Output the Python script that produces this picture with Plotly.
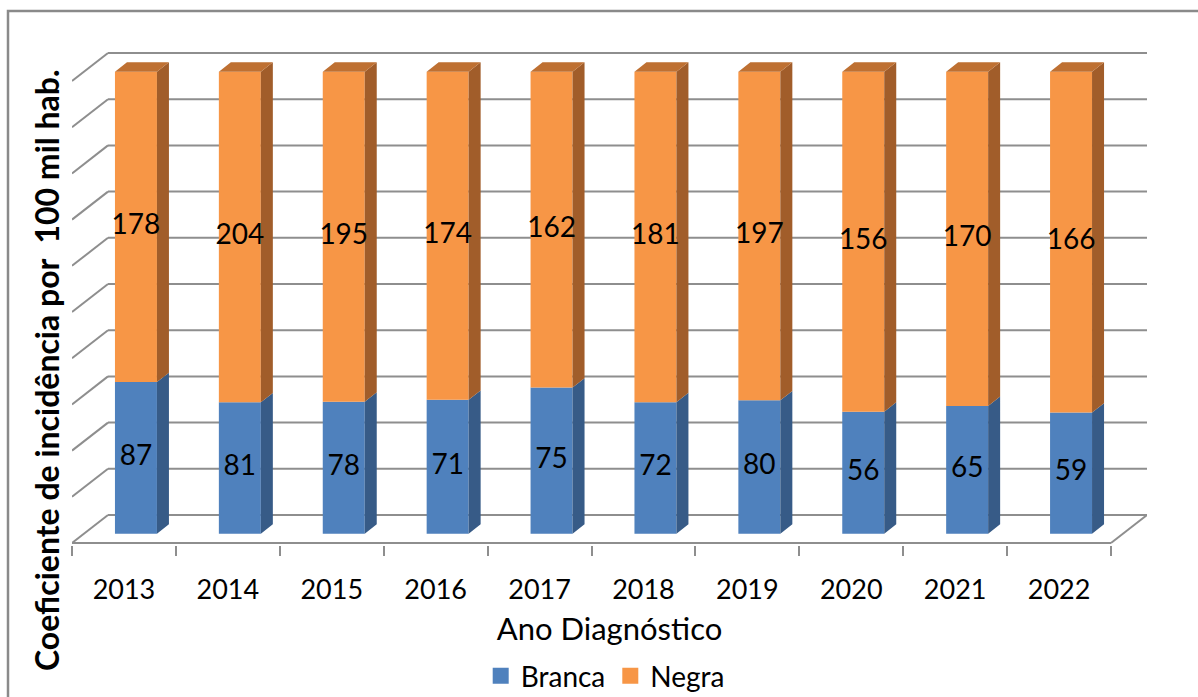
import plotly.graph_objects as go

# ---- data -------------------------------------------------------------
anos = ["2013", "2014", "2015", "2016", "2017", "2018", "2019", "2020", "2021", "2022"]
branca = [87, 81, 78, 71, 75, 72, 80, 56, 65, 59]
negra = [178, 204, 195, 174, 162, 181, 197, 156, 170, 166]
niveis = [0, 10, 20, 30, 40, 50, 60, 70, 80, 90, 100]   # wall gridlines (%)

# ---- colours ----------------------------------------------------------
AZUL, AZUL_LADO = "#4F81BD", "#375B87"
LARANJA, LARANJA_LADO, LARANJA_TOPO = "#F79646", "#A15D2A", "#BE7032"
GRADE = "#8E8E8E"
FONTE = "Lato"

# ---- pseudo-3D geometry (axis units) -----------------------------------
n = len(anos)
DX, DY = 0.3465, 6.06          # full depth of the floor along x / y
BAR_W = 0.404                  # front-face width of each column
dx, dy = DX / 3, DY / 3        # columns occupy the middle third of the depth

pct_b = [b / (b + g) * 100 for b, g in zip(branca, negra)]
pct_n = [g / (b + g) * 100 for b, g in zip(branca, negra)]
xc = [i + dx for i in range(n)]
base_b = [dy] * n
base_n = [dy + p for p in pct_b]

PX_Y = 4.62
y_lo, y_hi = -2 / PX_Y, 503 / PX_Y
x_lo, x_hi = -0.5, n - 0.5 + DX

fig = go.Figure()

# front faces
fig.add_trace(go.Bar(x=xc, y=pct_b, base=base_b, width=BAR_W, name="Branca",
                     marker=dict(color=AZUL, line=dict(width=0)), hoverinfo="skip",
                     showlegend=False))
fig.add_trace(go.Bar(x=xc, y=pct_n, base=base_n, width=BAR_W, name="Negra",
                     marker=dict(color=LARANJA, line=dict(width=0)), hoverinfo="skip",
                     showlegend=False))


def faces(kind, bottoms, tops):
    xs, ys = [], []
    for x, y0, y1 in zip(xc, bottoms, tops):
        xl, xr = x - BAR_W / 2, x + BAR_W / 2
        if kind == "side":
            xs += [xr, xr + dx, xr + dx, xr, xr, None]
            ys += [y0, y0 + dy, y1 + dy, y1, y0, None]
        else:
            xs += [xl, xr, xr + dx, xl + dx, xl, None]
            ys += [y1, y1, y1 + dy, y1 + dy, y1, None]
    return xs, ys


for kind, bottoms, tops, cor in [
    ("side", base_b, [b + p for b, p in zip(base_b, pct_b)], AZUL_LADO),
    ("side", base_n, [b + p for b, p in zip(base_n, pct_n)], LARANJA_LADO),
    ("top", base_n, [b + p for b, p in zip(base_n, pct_n)], LARANJA_TOPO),
]:
    xs, ys = faces(kind, bottoms, tops)
    fig.add_trace(go.Scatter(x=xs, y=ys, mode="lines", fill="toself", fillcolor=cor,
                             line=dict(width=0, color=cor), showlegend=False,
                             hoverinfo="skip"))

# value labels on the front faces
fig.add_trace(go.Scatter(
    x=xc + xc,
    y=[b + p / 2 for b, p in zip(base_b, pct_b)] + [b + p / 2 for b, p in zip(base_n, pct_n)],
    text=[str(v) for v in branca] + [str(v) for v in negra],
    mode="text", textposition="middle center",
    textfont=dict(family=FONTE, size=28, color="black"),
    showlegend=False, hoverinfo="skip"))

# legend keys (square swatches)
for nome, cor in [("Branca", AZUL), ("Negra", LARANJA)]:
    fig.add_trace(go.Scatter(x=[None], y=[None], mode="markers", name=nome,
                             marker=dict(symbol="square", size=16, color=cor,
                                         line=dict(width=0)),
                             hoverinfo="skip"))

# back wall, left wall and floor lines
shapes = []
for lv in niveis:
    shapes.append(dict(type="line", xref="x", yref="y", layer="below",
                       x0=x_lo, y0=lv, x1=x_lo + DX, y1=lv + DY,
                       line=dict(color=GRADE, width=2)))
    shapes.append(dict(type="line", xref="x", yref="y", layer="below",
                       x0=x_lo + DX, y0=lv + DY, x1=x_hi, y1=lv + DY,
                       line=dict(color=GRADE, width=2)))
shapes.append(dict(type="line", xref="x", yref="y", layer="below",
                   x0=x_lo, y0=0, x1=n - 0.5, y1=0, line=dict(color=GRADE, width=2)))
shapes.append(dict(type="line", xref="x", yref="y", layer="below",
                   x0=n - 0.5, y0=0, x1=x_hi, y1=DY, line=dict(color=GRADE, width=2)))
# chart frame
shapes.append(dict(type="rect", xref="paper", yref="paper",
                   x0=-64 / 1075, y0=(545 - 11) / 505, x1=1.3, y1=-0.5,
                   line=dict(color="#8A8A8A", width=2.5), fillcolor="rgba(0,0,0,0)",
                   layer="below"))

fig.update_layout(
    width=1198, height=697,
    margin=dict(l=72, r=51, t=40, b=152, autoexpand=False),
    paper_bgcolor="white", plot_bgcolor="white",
    barmode="overlay",
    shapes=shapes,
    showlegend=True,
    legend=dict(orientation="h", x=0.496, xanchor="center",
                yref="container", y=1 - 676 / 697, yanchor="middle",
                font=dict(family=FONTE, size=28, color="black"),
                bgcolor="rgba(0,0,0,0)"),
    annotations=[dict(text="<b>Coeficiente de incidência por  100 mil hab.</b>",
                      textangle=-90, xref="paper", yref="paper",
                      x=(46 - 72) / 1075, y=(545 - 370) / 505,
                      xanchor="center", yanchor="middle", showarrow=False,
                      font=dict(family=FONTE, size=32, color="black"))],
)
fig.update_xaxes(range=[x_lo, x_hi], tickvals=list(range(n)), ticktext=anos,
                 ticks="", showgrid=False, zeroline=False, showline=False,
                 ticklabelstandoff=26, automargin=False,
                 tickfont=dict(family=FONTE, size=27, color="black"),
                 minor=dict(tickvals=[i - 0.5 for i in range(n + 1)], ticks="outside",
                            ticklen=10, tickwidth=2, tickcolor=GRADE, showgrid=False),
                 title=dict(text="Ano Diagnóstico", standoff=14,
                            font=dict(family=FONTE, size=31, color="black")),
                 fixedrange=True)
fig.update_yaxes(range=[y_lo, y_hi], visible=False, fixedrange=True)

fig.write_html("out.html")
